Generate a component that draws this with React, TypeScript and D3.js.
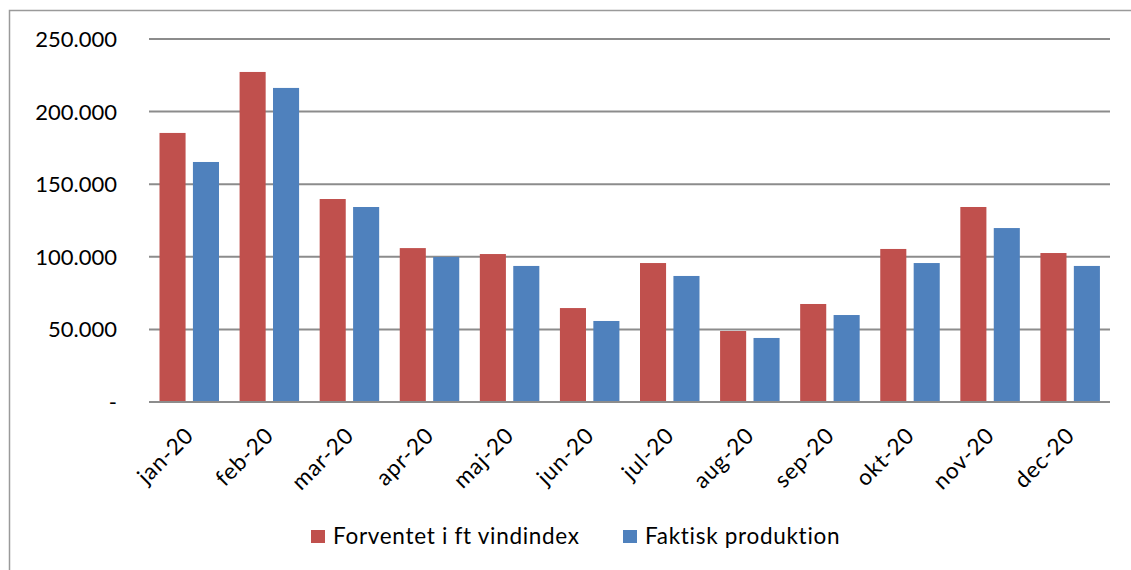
import { FC } from 'react';
import * as d3 from 'd3';

const months = ['jan-20', 'feb-20', 'mar-20', 'apr-20', 'maj-20', 'jun-20', 'jul-20', 'aug-20', 'sep-20', 'okt-20', 'nov-20', 'dec-20'];
const forventet = [185300, 227300, 139800, 106000, 101900, 64700, 95700, 48900, 67500, 105400, 134300, 102600];
const faktisk = [165300, 216300, 134300, 99900, 93700, 55800, 86800, 44100, 59900, 95700, 119800, 93700];
const seriesNames = ['Forventet i ft vindindex', 'Faktisk produktion'];
const seriesColors = ['#C0504D', '#4F81BD'];
const yTicks = [0, 50000, 100000, 150000, 200000, 250000];

const W = 1131;
const H = 570;
const FONT = 'Lato, "Open Sans", sans-serif';

// tal med punktum som tusindtalsseparator, 0 vises som "-"
const fmt = (v: number) => (v === 0 ? '-' : d3.format(',')(v).replace(/,/g, '.'));

const App: FC = () => {
  const y = d3.scaleLinear().domain([0, 250000]).range([402, 39]);
  const x0 = d3.scaleBand<string>().domain(months).range([149, 1110]).paddingInner(0).paddingOuter(0);
  const x1 = d3.scaleBand<number>().domain([0, 1]).range([10.5, 70]).paddingInner(0.22);
  const values = [forventet, faktisk];

  return (
    <svg width={W} height={H} style={{ position: 'absolute', left: 0, top: 0, background: '#fff' }}>
      <rect x={9.5} y={10.5} width={W + 10} height={H + 10} fill="#fff" stroke="#9a9a9a" strokeWidth={1.5} />

      {yTicks.map((t) => (
        <g key={t}>
          <line x1={149} x2={1110} y1={y(t)} y2={y(t)} stroke="#8c8c8c" strokeWidth={2} />
          <text x={117} y={y(t)} dy="0.36em" textAnchor="end" fontFamily={FONT} fontSize={22} fill="#000">
            {fmt(t)}
          </text>
        </g>
      ))}

      {months.map((m, i) => (
        <g key={m} transform={`translate(${x0(m)},0)`}>
          {values.map((s, j) => (
            <rect
              key={j}
              x={x1(j)}
              y={y(s[i])}
              width={x1.bandwidth()}
              height={y(0) - y(s[i]) - 1}
              fill={seriesColors[j]}
            />
          ))}
        </g>
      ))}

      <line x1={149} x2={1110} y1={y(0)} y2={y(0)} stroke="#8c8c8c" strokeWidth={2} />

      {months.map((m) => {
        const cx = (x0(m) as number) + x0.bandwidth() / 2 + 6;
        return (
          <text
            key={m}
            transform={`translate(${cx},437) rotate(-45)`}
            textAnchor="end"
            fontFamily={FONT}
            fontSize={22.5}
            letterSpacing={0.8}
            fill="#000"
          >
            {m}
          </text>
        );
      })}

      {seriesNames.map((n, j) => {
        const lx = [311, 623][j];
        return (
          <g key={n}>
            <rect x={lx} y={530} width={14} height={13} fill={seriesColors[j]} />
            <text x={lx + 22} y={544} fontFamily={FONT} fontSize={22.5} letterSpacing={0.7} fill="#000">
              {n}
            </text>
          </g>
        );
      })}
    </svg>
  );
};

export default App;
